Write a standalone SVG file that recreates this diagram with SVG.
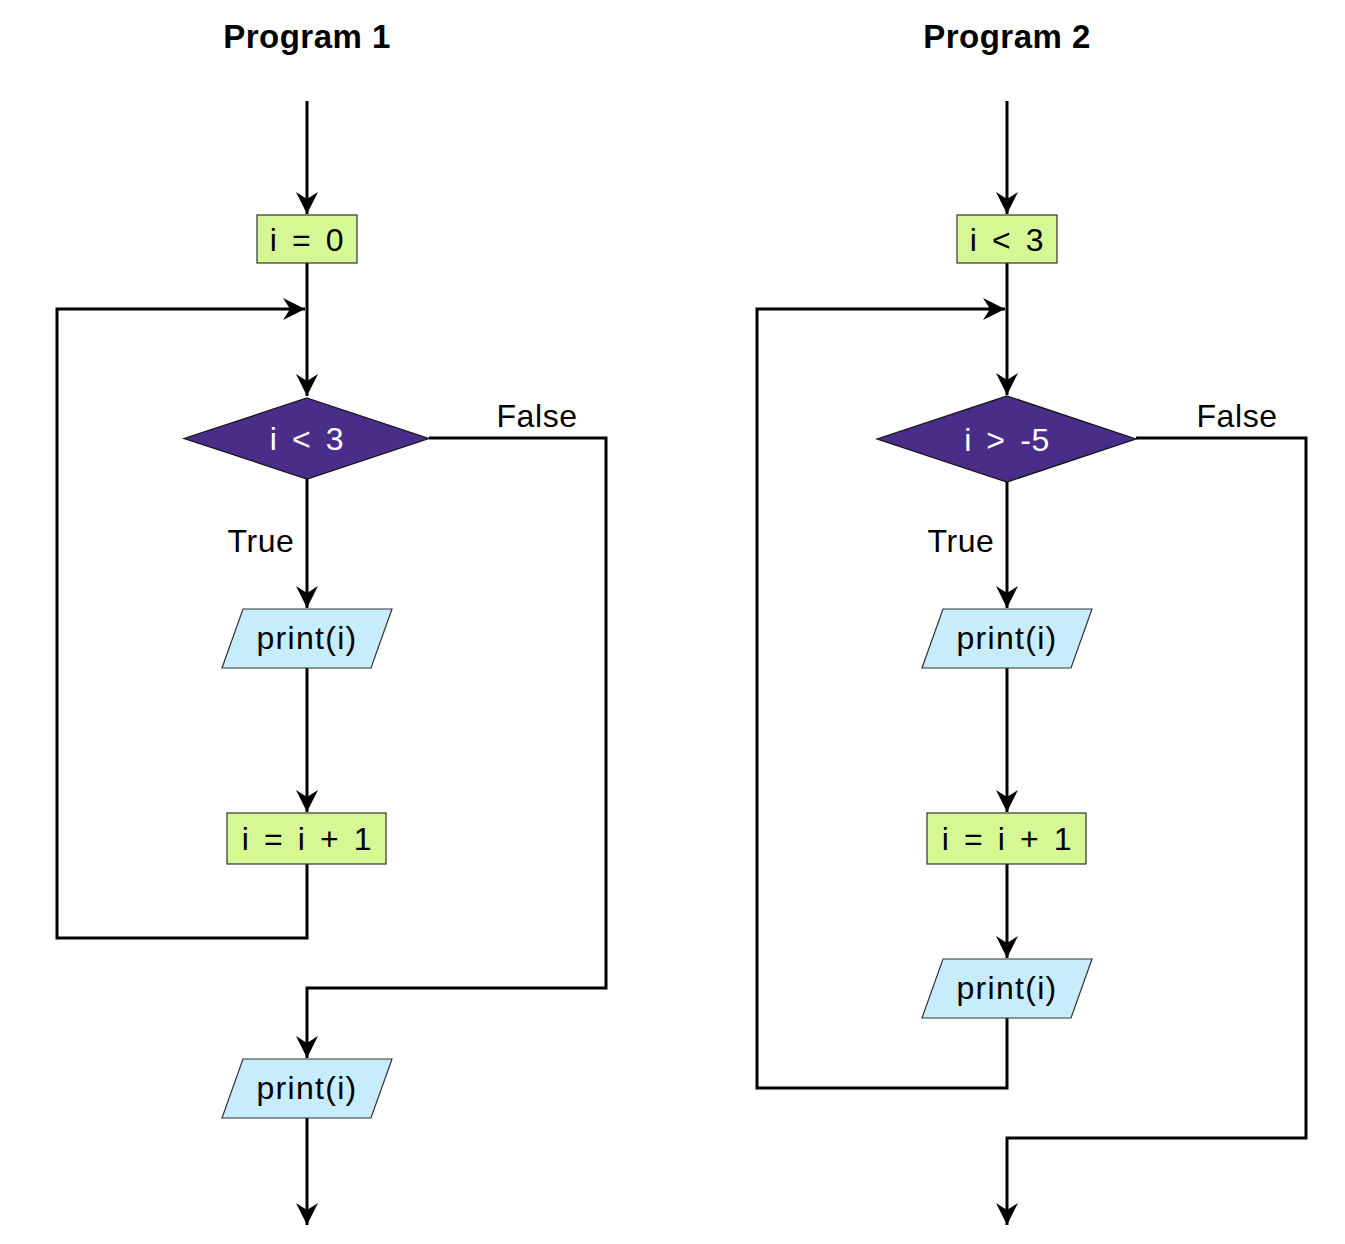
<svg xmlns="http://www.w3.org/2000/svg" width="1345" height="1244" viewBox="0 0 1345 1244">
  <style>
    .title { font-family: "Liberation Sans", Arial, sans-serif; font-weight: bold; font-size: 33px; fill: #000; letter-spacing: 0.5px; }
    .lbl { font-family: "Liberation Sans", Arial, sans-serif; font-size: 32px; fill: #000; letter-spacing: 0.6px; }
    .eq { word-spacing: 5px; }
    .wide { letter-spacing: 1.3px; }
    .proc { fill: #d5f894; stroke: #333; stroke-width: 1.2; }
    .io { fill: #c7ecfc; stroke: #333; stroke-width: 1.2; }
    .dec { fill: #4a2d89; stroke: #111; stroke-width: 1.2; }
    .dec-t { fill: #fff; }
    .wire { fill: none; stroke: #000; stroke-width: 3; }
  </style>
  <defs>
    <marker id="arrow" markerUnits="userSpaceOnUse" viewBox="-23 -12 25 24" refX="0" refY="0" markerWidth="25" markerHeight="24" orient="auto">
      <path d="M0,0 L-22,-11 L-15,0 L-22,11 Z" fill="#000"/>
    </marker>
  </defs>

  <rect width="1345" height="1244" fill="#fff"/>

  <text class="title" x="307" y="48" text-anchor="middle">Program 1</text>
  <text class="title" x="1007" y="48" text-anchor="middle">Program 2</text>

  <!-- connectors -->
  <g id="connectors">
    <!-- program 1 -->
    <path class="wire" d="M307,101 V214" marker-end="url(#arrow)"/>
    <path class="wire" d="M307,263 V396" marker-end="url(#arrow)"/>
    <path class="wire" d="M307,479 V608" marker-end="url(#arrow)"/>
    <path class="wire" d="M307,668 V812" marker-end="url(#arrow)"/>
    <path class="wire" d="M307,864 V938 H57 V309 H305" marker-end="url(#arrow)"/>
    <path class="wire" d="M429,438 H606 V988 H307 V1058" marker-end="url(#arrow)"/>
    <path class="wire" d="M307,1118 V1225" marker-end="url(#arrow)"/>
    <text class="lbl" x="261" y="552" text-anchor="middle">True</text>
    <text class="lbl" x="537" y="427" text-anchor="middle">False</text>

    <!-- program 2 -->
    <path class="wire" d="M1007,101 V214" marker-end="url(#arrow)"/>
    <path class="wire" d="M1007,263 V395" marker-end="url(#arrow)"/>
    <path class="wire" d="M1007,482 V608" marker-end="url(#arrow)"/>
    <path class="wire" d="M1007,668 V812" marker-end="url(#arrow)"/>
    <path class="wire" d="M1007,864 V958" marker-end="url(#arrow)"/>
    <path class="wire" d="M1007,1018 V1088 H757 V309 H1005" marker-end="url(#arrow)"/>
    <path class="wire" d="M1136,438 H1306 V1138 H1007 V1225" marker-end="url(#arrow)"/>
    <text class="lbl" x="961" y="552" text-anchor="middle">True</text>
    <text class="lbl" x="1237" y="427" text-anchor="middle">False</text>
  </g>

  <!-- program 1 nodes -->
  <g id="p1-init">
    <rect class="proc" x="257" y="215" width="100" height="48"/>
    <text class="lbl eq" x="307" y="251" text-anchor="middle">i = 0</text>
  </g>
  <g id="p1-cond">
    <polygon class="dec" points="307,398 429,438.5 307,479 184,438.5"/>
    <text class="lbl eq dec-t" x="307" y="450" text-anchor="middle">i &lt; 3</text>
  </g>
  <g id="p1-print">
    <polygon class="io" points="243,609 392,609 371,668 222,668"/>
    <text class="lbl wide" x="307" y="649" text-anchor="middle">print(i)</text>
  </g>
  <g id="p1-inc">
    <rect class="proc" x="227" y="813" width="159" height="51"/>
    <text class="lbl eq" x="307" y="850" text-anchor="middle">i = i + 1</text>
  </g>
  <g id="p1-print-end">
    <polygon class="io" points="243,1059 392,1059 371,1118 222,1118"/>
    <text class="lbl wide" x="307" y="1099" text-anchor="middle">print(i)</text>
  </g>

  <!-- program 2 nodes -->
  <g id="p2-init">
    <rect class="proc" x="957" y="215" width="100" height="48"/>
    <text class="lbl eq" x="1007" y="251" text-anchor="middle">i &lt; 3</text>
  </g>
  <g id="p2-cond">
    <polygon class="dec" points="1007,396 1136,439 1007,482 877,439"/>
    <text class="lbl eq dec-t" x="1007" y="451" text-anchor="middle">i &gt; -5</text>
  </g>
  <g id="p2-print">
    <polygon class="io" points="943,609 1092,609 1071,668 922,668"/>
    <text class="lbl wide" x="1007" y="649" text-anchor="middle">print(i)</text>
  </g>
  <g id="p2-inc">
    <rect class="proc" x="927" y="813" width="159" height="51"/>
    <text class="lbl eq" x="1007" y="850" text-anchor="middle">i = i + 1</text>
  </g>
  <g id="p2-print-loop">
    <polygon class="io" points="943,959 1092,959 1071,1018 922,1018"/>
    <text class="lbl wide" x="1007" y="999" text-anchor="middle">print(i)</text>
  </g>
</svg>
